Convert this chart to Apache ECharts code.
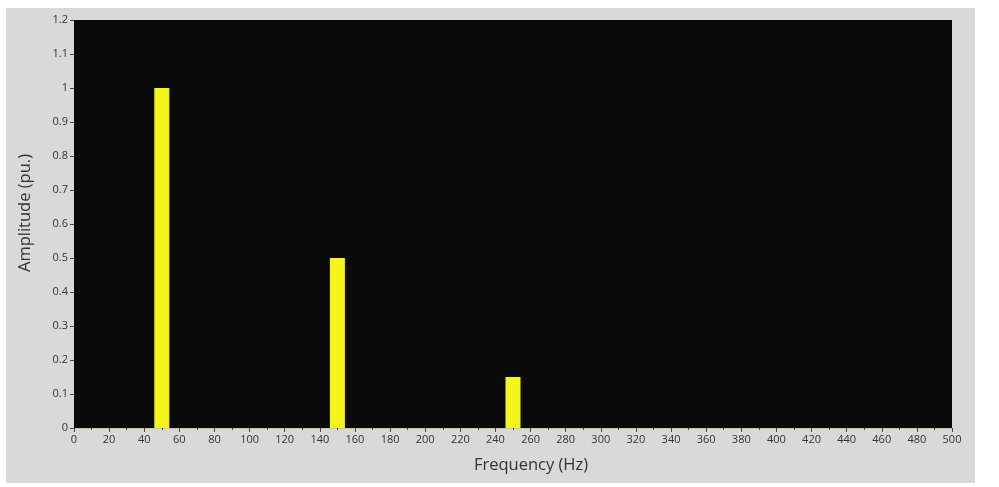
<!DOCTYPE html>
<html>
<head>
<meta charset="utf-8">
<script src="https://cdn.jsdelivr.net/npm/echarts@6/dist/echarts.min.js"></script>
<style>
  html, body { margin: 0; padding: 0; background: #ffffff; }
  #chart { width: 999px; height: 487px; }
</style>
</head>
<body>
<div id="chart"></div>
<script>
// spectrum harmonics
var freqs = [50, 150, 250];
var amps = [1, 0.5, 0.15];
var xTicks = [0, 500, 20];   // min, max, step
var yTicks = [0, 1.2, 0.1];

var chart = echarts.init(document.getElementById('chart'));

var barData = freqs.map(function (f, i) { return [f, amps[i]]; });

var option = {
  backgroundColor: '#ffffff',
  animation: false,
  graphic: [{
    type: 'rect',
    z: -10,
    shape: { x: 6, y: 8, width: 969, height: 475 },
    style: { fill: '#d9d9d9' }
  }],
  grid: {
    left: 74, right: 47, top: 20, bottom: 59,
    containLabel: false,
    outerBoundsMode: 'none',
    show: true,
    backgroundColor: '#0a0a0a',
    borderWidth: 0
  },
  xAxis: {
    type: 'value',
    min: xTicks[0], max: xTicks[1], interval: xTicks[2],
    name: 'Frequency (Hz)',
    nameLocation: 'middle',
    nameGap: 29,
    nameTextStyle: { fontSize: 16.5, color: '#333', fontFamily: 'Open Sans', padding: [0, 0, 0, 36] },
    axisLine: { show: true, lineStyle: { color: '#c9c98a', width: 1 } },
    axisTick: { show: true, length: 4, lineStyle: { color: '#444' } },
    minorTick: { show: true, splitNumber: 2, length: 2, lineStyle: { color: '#444' } },
    axisLabel: { fontSize: 11, color: '#333', margin: 6, fontFamily: 'Open Sans' },
    splitLine: { show: false }
  },
  yAxis: {
    type: 'value',
    min: yTicks[0], max: yTicks[1], interval: yTicks[2],
    name: 'Amplitude (pu.)',
    nameLocation: 'middle',
    nameGap: 40,
    nameTextStyle: { fontSize: 16.5, color: '#333', fontFamily: 'Open Sans', padding: [0, 0, 0, 22] },
    axisLine: { show: false },
    axisTick: { show: true, length: 4, lineStyle: { color: '#444' } },
    axisLabel: {
      fontSize: 11, color: '#333', margin: 6, fontFamily: 'Open Sans',
      formatter: function (v) { return String(Math.round(v * 10) / 10); }
    },
    splitLine: { show: false }
  },
  series: [{
    type: 'bar',
    data: barData,
    barWidth: 15,
    itemStyle: { color: '#f5f51c' }
  }]
};
chart.setOption(option);
</script>
</body>
</html>
